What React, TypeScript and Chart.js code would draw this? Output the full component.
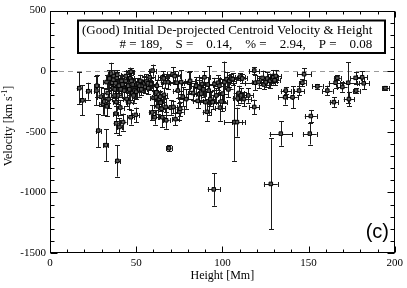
import React, { useEffect, useRef } from "react";
import { Chart, registerables } from "chart.js";

Chart.register(...registerables);

// Height [Mm] of each event
const heights = [
  17.0, 18.8, 22.2, 26.9, 27.2, 28.0, 29.5, 30.7, 31.4, 32.4, 32.8, 33.0, 33.5, 34.0, 34.5, 35.5, 36.0, 36.5, 36.8, 37.0,
  37.5, 37.6, 38.0, 38.2, 38.4, 38.5, 38.8, 39.0, 39.1, 39.5, 40.0, 40.3, 40.8, 41.0, 41.5, 42.0, 42.4, 43.0, 43.9, 44.0,
  44.5, 45.0, 45.3, 45.9, 46.0, 46.2, 46.5, 46.8, 47.0, 47.2, 47.8, 48.0, 48.5, 49.1, 49.7, 50.0, 50.3, 51.1, 51.8, 52.0,
  52.5, 53.0, 53.8, 54.3, 54.8, 55.2, 55.9, 56.8, 57.0, 57.8, 58.6, 59.3, 59.5, 60.1, 60.7, 61.5, 61.7, 62.0, 62.5, 63.2,
  64.0, 64.2, 64.7, 65.1, 65.3, 66.0, 66.1, 66.7, 67.1, 67.4, 68.4, 69.0, 70.0, 71.1, 71.6, 72.3, 72.8, 73.5, 74.2, 75.1,
  75.5, 76.1, 77.0, 79.0, 80.7, 81.3, 83.0, 84.8, 85.7, 86.5, 86.7, 87.7, 88.2, 89.0, 89.6, 90.2, 91.0, 91.5, 92.1, 93.0,
  94.4, 95.0, 95.4, 96.5, 97.5, 98.3, 98.6, 99.5, 100.2, 101.2, 102.5, 103.5, 104.0, 105.0, 106.0, 107.0, 108.5, 108.9, 109.5, 110.2,
  110.8, 111.5, 112.5, 115.0, 118.5, 118.5, 119.1, 121.0, 123.3, 124.0, 125.2, 126.0, 127.6, 128.1, 129.0, 129.5, 130.3, 131.0, 133.9, 136.4,
  136.8, 140.7, 144.5, 146.4, 147.4, 150.7, 151.3, 155.1, 160.9, 164.7, 165.7, 166.7, 169.6, 173.0, 173.4, 177.3, 177.6, 181.1, 182.0, 194.6
];

// De-projected centroid velocity [km/s]
const velocities = [
  -140, -240, -165, -160, -120, -490, -210, -270, -250, -610, -90, -290, -180, -230, -60, -20, -95, -140, -70, -40,
  -200, -150, -100, -350, -430, -255, -55, -30, -740, -200, -120, -460, -300, -150, -80, -110, -420, -160, -80, -40,
  -230, -130, -120, -255, -150, -10, -60, -380, -5, -80, -180, -110, -200, -160, -360, -170, -110, -105, -150, -120,
  -80, -150, -120, -90, -100, -130, -85, -100, -140, -50, -105, -340, 5, -220, -380, -215, -175, -120, -290, -230,
  -210, -260, -310, -380, -50, -60, -195, -90, -295, -405, -90, -635, -300, -25, -295, -40, -395, -95, -160, -335,
  -310, -90, -210, -230, -95, -80, -180, -120, -245, -190, -135, -185, -105, -150, -50, -255, -335, -110, -160, -230,
  -255, -975, -105, -200, -95, -120, -300, -250, -185, -90, -65, -150, -80, -60, -65, -420, -420, -225, -180, -45,
  -200, -60, -230, -200, -295, 5, -95, -90, -55, -110, -90, -60, -80, -930, -60, -50, -75, -40, -515, -215,
  -160, -215, -160, -95, -25, -515, -370, -125, -160, -255, -95, -55, -130, -95, -230, -55, -160, -50, -100, -140
];

// Height uncertainty [Mm]
const heightErr = [
  1.5, 1.5, 1.5, 1.5, 1.5, 1.5, 2, 2, 1.5, 1.5, 2, 1.5, 2, 2, 2, 2, 2, 2, 2, 2.5,
  2, 2, 2, 1.5, 1.5, 2, 2, 2, 1.5, 2, 2.5, 1.5, 2, 2, 2, 2, 2, 2, 2.5, 2,
  2, 2, 2.5, 2, 2, 2, 2, 2, 2, 2, 2, 2, 2, 2.5, 2, 3, 3, 3, 2.5, 3,
  3, 3, 3, 3, 3, 3, 3, 3, 3, 3, 3, 2, 2, 2, 2, 2.5, 2, 3, 2, 2.5,
  3, 2, 2, 2, 2.5, 2, 2, 2.5, 2, 2, 3, 1.5, 2.5, 3, 2, 3, 2, 4, 3, 2.5,
  2, 4, 3, 4, 4, 3, 3, 3, 3, 3, 3, 3, 3, 2.5, 3, 3, 2.5, 3, 3, 3,
  3, 3.5, 3, 3, 3, 3, 3, 3, 3, 3, 4, 3, 4, 4, 4, 6, 3, 3, 3, 3,
  3, 3, 4, 3, 3, 3, 6, 4, 3, 3, 3, 3, 4, 4, 3, 3, 3, 3, 6.5, 4,
  3, 3, 3, 2, 4, 4, 3.5, 3, 3, 2.5, 4, 2, 3, 5, 3, 3, 2, 3, 3, 2
];

// Velocity uncertainty [km/s]
const velocityErr = [
  130, 125, 70, 120, 90, 135, 80, 90, 110, 130, 60, 80, 80, 70, 70, 90, 60, 70, 50, 50,
  60, 70, 60, 60, 80, 90, 50, 40, 130, 70, 60, 70, 60, 60, 50, 50, 70, 60, 60, 40,
  60, 50, 60, 60, 50, 40, 50, 60, 30, 50, 60, 50, 60, 60, 60, 60, 50, 50, 60, 50,
  50, 50, 50, 50, 50, 50, 60, 50, 50, 50, 50, 60, 50, 60, 60, 60, 60, 50, 60, 60,
  50, 70, 70, 80, 50, 40, 60, 50, 70, 70, 60, 25, 60, 60, 50, 40, 50, 60, 60, 70,
  60, 100, 80, 80, 90, 80, 60, 70, 60, 60, 60, 50, 50, 60, 50, 80, 80, 60, 200, 60,
  60, 135, 50, 60, 60, 60, 110, 80, 60, 170, 60, 60, 50, 40, 50, 320, 120, 50, 60, 30,
  60, 40, 60, 60, 60, 30, 60, 50, 60, 40, 40, 50, 60, 375, 40, 60, 40, 50, 100, 60,
  30, 90, 40, 30, 50, 90, 50, 20, 40, 40, 40, 20, 40, 170, 60, 50, 20, 50, 50, 15
];

const xTickValues = [0, 50, 100, 150, 200];
const yTickValues = [500, 0, -500, -1000, -1500];
const xTitle = "Height [Mm]";
const yTitle = "Velocity [km s";
const yTitleSup = "-1";
const boxTitle = "(Good) Initial De-projected Centroid Velocity & Height";
const boxStats = "# = 189,    S =    0.14,    % =    2.94,    P =    0.08";
const panelLabel = "(c)";

const SERIF = "'Liberation Serif', 'Times New Roman', serif";
const SANS = "'Liberation Sans', Arial, sans-serif";

const decorPlugin = {
  id: "decor",
  beforeDatasetsDraw(chart: any) {
    const { ctx, chartArea, scales } = chart;
    const xs = scales.x;
    const ys = scales.y;
    ctx.save();
    // zero line
    const y0 = Math.round(ys.getPixelForValue(0)) + 0.5;
    ctx.strokeStyle = "#9a9a9a";
    ctx.lineWidth = 1;
    ctx.setLineDash([5, 4]);
    ctx.beginPath();
    ctx.moveTo(chartArea.left, y0);
    ctx.lineTo(chartArea.right, y0);
    ctx.stroke();
    ctx.setLineDash([]);
    // error bars
    ctx.strokeStyle = "#1a1a1a";
    ctx.lineWidth = 1;
    for (let i = 0; i < heights.length; i++) {
      const px = xs.getPixelForValue(heights[i]);
      const py = ys.getPixelForValue(velocities[i]);
      const x1 = xs.getPixelForValue(heights[i] - heightErr[i]);
      const x2 = xs.getPixelForValue(heights[i] + heightErr[i]);
      const y1 = ys.getPixelForValue(velocities[i] + velocityErr[i]);
      const y2 = ys.getPixelForValue(velocities[i] - velocityErr[i]);
      const cx = Math.round(px) + 0.5;
      const cy = Math.round(py) + 0.5;
      ctx.beginPath();
      ctx.moveTo(cx, y1);
      ctx.lineTo(cx, y2);
      ctx.moveTo(cx - 2.5, Math.round(y1) + 0.5);
      ctx.lineTo(cx + 2.5, Math.round(y1) + 0.5);
      ctx.moveTo(cx - 2.5, Math.round(y2) + 0.5);
      ctx.lineTo(cx + 2.5, Math.round(y2) + 0.5);
      ctx.moveTo(x1, cy);
      ctx.lineTo(x2, cy);
      ctx.moveTo(Math.round(x1) + 0.5, cy - 2.5);
      ctx.lineTo(Math.round(x1) + 0.5, cy + 2.5);
      ctx.moveTo(Math.round(x2) + 0.5, cy - 2.5);
      ctx.lineTo(Math.round(x2) + 0.5, cy + 2.5);
      ctx.stroke();
    }
    ctx.restore();
  },
  afterDraw(chart: any) {
    const { ctx, chartArea, scales } = chart;
    const xs = scales.x;
    const ys = scales.y;
    const L = Math.round(chartArea.left) + 0.5;
    const R = Math.round(chartArea.right) - 0.5;
    const T = Math.round(chartArea.top) + 0.5;
    const B = Math.round(chartArea.bottom) - 0.5;
    ctx.save();
    ctx.strokeStyle = "#000";
    ctx.lineWidth = 1;
    ctx.strokeRect(L, T, R - L, B - T);
    ctx.beginPath();
    for (let v = 0; v <= 200; v += 10) {
      const len = v % 50 === 0 ? 6 : 3;
      const x = Math.round(xs.getPixelForValue(v)) + 0.5;
      ctx.moveTo(x, B);
      ctx.lineTo(x, B - len);
      ctx.moveTo(x, T);
      ctx.lineTo(x, T + len);
    }
    for (let v = -1500; v <= 500; v += 100) {
      const len = v % 500 === 0 ? 7 : 4;
      const y = Math.round(ys.getPixelForValue(v)) + 0.5;
      ctx.moveTo(L, y);
      ctx.lineTo(L + len, y);
      ctx.moveTo(R, y);
      ctx.lineTo(R - len, y);
    }
    ctx.stroke();

    // legend box
    ctx.font = `13px ${SERIF}`;
    const w1 = ctx.measureText(boxTitle).width;
    const bx = 78, by = 20.5, bw = 307, bh = 32.5;
    ctx.fillStyle = "#fff";
    ctx.fillRect(bx, by, bw, bh);
    ctx.lineWidth = 2;
    ctx.strokeRect(bx, by, bw, bh);
    ctx.fillStyle = "#000";
    ctx.textBaseline = "alphabetic";
    ctx.textAlign = "left";
    const textRight = bx + 4 + w1;
    ctx.fillText(boxTitle, bx + 4, by + 13);
    ctx.textAlign = "right";
    ctx.fillText(boxStats, textRight, by + 27);

    // panel label
    ctx.font = `20px ${SANS}`;
    ctx.textAlign = "right";
    ctx.fillText(panelLabel, 389, 238);

    // axis titles
    ctx.font = `12px ${SERIF}`;
    ctx.textAlign = "center";
    ctx.textBaseline = "middle";
    ctx.fillText(xTitle, (chartArea.left + chartArea.right) / 2, 276);

    ctx.save();
    ctx.translate(8, 126);
    ctx.rotate(-Math.PI / 2);
    ctx.font = `12px ${SERIF}`;
    const wMain = ctx.measureText(yTitle).width;
    ctx.font = `8px ${SERIF}`;
    const wSup = ctx.measureText(yTitleSup).width;
    ctx.font = `12px ${SERIF}`;
    const wEnd = ctx.measureText("]").width;
    const total = wMain + wSup + wEnd;
    let sx = -total / 2;
    ctx.textAlign = "left";
    ctx.textBaseline = "alphabetic";
    ctx.fillText(yTitle, sx, 4);
    sx += wMain;
    ctx.font = `8px ${SERIF}`;
    ctx.fillText(yTitleSup, sx, -1);
    sx += wSup;
    ctx.font = `12px ${SERIF}`;
    ctx.fillText("]", sx, 4);
    ctx.restore();

    ctx.restore();
  }
};

export default function App() {
  const ref = useRef<HTMLCanvasElement | null>(null);
  useEffect(() => {
    if (!ref.current) return;
    const chart = new Chart(ref.current, {
      type: "scatter",
      data: {
        datasets: [
          {
            data: heights.map((h, i) => ({ x: h, y: velocities[i] })),
            pointStyle: "rect",
            pointRadius: 2.5,
            backgroundColor: "#555",
            borderColor: "#000",
            borderWidth: 1
          }
        ]
      },
      options: {
        animation: false,
        responsive: false,
        devicePixelRatio: 1,
        layout: { padding: { top: 7, right: 10, left: 0, bottom: 0 } },
        plugins: { legend: { display: false }, tooltip: { enabled: false }, title: { display: false } },
        scales: {
          x: {
            type: "linear",
            min: 0,
            max: 200,
            grid: { display: false, drawTicks: false },
            border: { display: false },
            afterBuildTicks: (s: any) => {
              s.ticks = xTickValues.map((v) => ({ value: v }));
            },
            ticks: {
              color: "#000",
              font: { family: SERIF, size: 11 },
              padding: 4,
              maxRotation: 0,
              autoSkip: false,
              callback: (v: any) => String(v)
            },
            afterFit: (s: any) => {
              s.height = 35;
            }
          },
          y: {
            type: "linear",
            min: -1500,
            max: 500,
            grid: { display: false, drawTicks: false },
            border: { display: false },
            afterBuildTicks: (s: any) => {
              s.ticks = yTickValues.map((v) => ({ value: v }));
            },
            ticks: {
              color: "#000",
              font: { family: SERIF, size: 11 },
              padding: 4,
              autoSkip: false,
              callback: (v: any) => String(v)
            },
            afterFit: (s: any) => {
              s.width = 50;
            }
          }
        }
      },
      plugins: [decorPlugin]
    } as any);
    return () => chart.destroy();
  }, []);
  return (
    <div style={{ position: "absolute", left: 0, top: 0, width: 407, height: 288, background: "#fff" }}>
      <canvas ref={ref} width={407} height={288} style={{ display: "block" }} />
    </div>
  );
}
